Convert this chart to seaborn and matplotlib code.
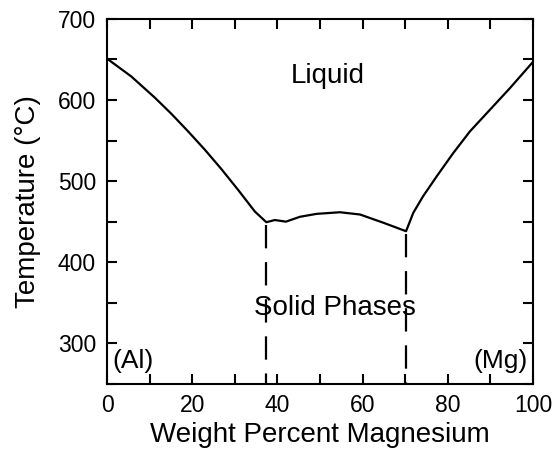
import matplotlib
matplotlib.use("Agg")
import matplotlib.pyplot as plt
import seaborn as sns
import pandas as pd

# Liquidus curve (wt% Mg, temperature in degC)
wt_mg = [0, 5.7, 11.2, 15.1, 19.0, 23.0, 26.9, 30.8, 34.7, 37.4,
         39.4, 42.0, 45.3, 49.2, 54.7, 59.4, 64.9,
         70.2, 71.9, 74.2, 77.4, 81.3, 85.2, 89.9, 94.6, 100]
temp_c = [651, 629, 603, 583, 561.5, 538.5, 514.5, 489, 462.5, 449.3,
          452, 450, 456, 459.6, 461.6, 458.8, 448.6,
          438.2, 460.9, 481.3, 505.9, 534.7, 561.3, 588.0, 614.7, 647]

# Eutectic (dashed) lines
eut_x = [37.4, 70.2]
eut_top = [449.3, 438.2]
y_bottom = 250

x_ticks = list(range(0, 101, 10))
x_labels = ["0", "", "20", "", "40", "", "60", "", "80", "", "100"]
y_ticks = list(range(250, 701, 50))
y_labels = ["", "300", "", "400", "", "500", "", "600", "", "700"]

sns.set_theme(style="ticks")
plt.rcParams["font.family"] = ["Liberation Sans", "DejaVu Sans"]
plt.rcParams["text.color"] = "black"
plt.rcParams["axes.labelcolor"] = "black"

fig = plt.figure(figsize=(5.56, 4.5), dpi=100)
ax = fig.add_axes([0.1925, 0.147, 0.9586 - 0.1925, 0.958 - 0.147])

df = pd.DataFrame({"x": wt_mg, "T": temp_c})
sns.lineplot(data=df, x="x", y="T", sort=False, color="black", linewidth=1.6, ax=ax)

for xe, te in zip(eut_x, eut_top):
    ax.plot([xe, xe], [te - 4, y_bottom], color="black", linewidth=1.6,
            dashes=(10.5, 6.2))

ax.set_xlim(0, 100)
ax.set_ylim(250, 700)
ax.set_xticks(x_ticks)
ax.set_xticklabels(x_labels)
ax.set_yticks(y_ticks)
ax.set_yticklabels(y_labels)

ax.tick_params(direction="in", length=7, width=1.5, top=True, right=True,
               labelsize=16.5, colors="black")
ax.tick_params(axis="x", pad=7)
ax.tick_params(axis="y", pad=8)
for s in ax.spines.values():
    s.set_linewidth(1.5)
    s.set_color("black")
    s.set_visible(True)

ax.set_xlabel("Weight Percent Magnesium", fontsize=20, labelpad=4, color="black")
ax.set_ylabel("Temperature (°C)", fontsize=20, labelpad=12, color="black")

ax.text(51.8, 629, "Liquid", fontsize=20, ha="center", va="center", color="black")
ax.text(53.5, 344, "Solid Phases", fontsize=20, ha="center", va="center", color="black")
ax.text(1.3, 278, "(Al)", fontsize=19, ha="left", va="center", color="black")
ax.text(98.8, 278, "(Mg)", fontsize=19, ha="right", va="center", color="black")

fig.savefig("out.png", dpi=100)
